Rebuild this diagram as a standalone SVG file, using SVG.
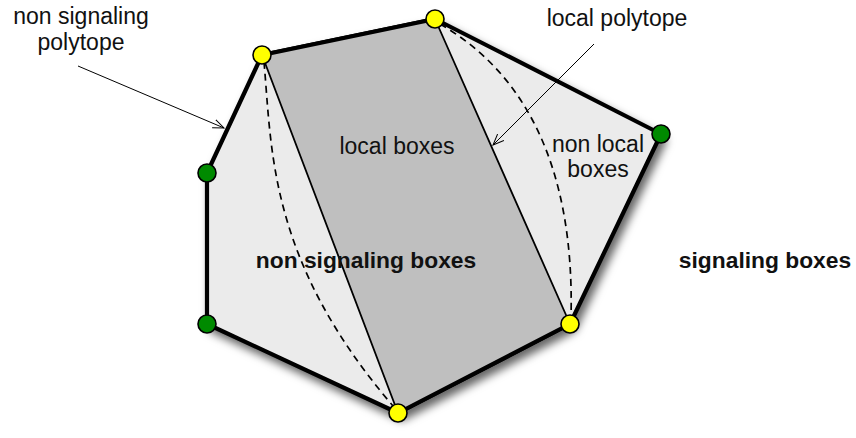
<svg xmlns="http://www.w3.org/2000/svg" width="856" height="438" viewBox="0 0 856 438">
<style>
.t{font-family:"Liberation Sans",Arial,sans-serif;font-size:23px;fill:#111;text-anchor:middle}
.b{font-weight:bold;font-size:22.8px}
.y{fill:#ffff00;stroke:#000;stroke-width:1.6}
.g{fill:#008a00;stroke:#000;stroke-width:1.6}
.thin{fill:none;stroke:#000;stroke-width:1.8}
.dash{fill:none;stroke:#000;stroke-width:1.7;stroke-dasharray:7 5}
.arr{fill:none;stroke:#000;stroke-width:1;marker-end:url(#ah)}
</style>
<defs>
<filter id="sh" x="-10%" y="-10%" width="125%" height="130%">
<feDropShadow dx="4" dy="6" stdDeviation="4.5" flood-color="#000" flood-opacity="0.6"/>
</filter>
<marker id="ah" markerWidth="12" markerHeight="10" refX="11" refY="5" orient="auto" markerUnits="userSpaceOnUse">
<path d="M0,0.5 L11,5 L0,9.5" fill="none" stroke="#000" stroke-width="1"/>
</marker>
</defs>
<rect width="856" height="438" fill="#fff"/>
<g id="nonsignaling-polytope">
<polygon points="262,55 435,19 661,134 570,324 398,413 207,324 207,173" fill="#ebebeb" stroke="#000" stroke-width="4.2" stroke-linejoin="round" filter="url(#sh)"/>
</g>
<g id="local-polytope">
<polygon points="262,55 435,19 570,324 398,413" fill="#bfbfbf"/>
<path class="thin" d="M262,55 L398,413 M435,19 L570,324"/>
<path d="M262,55 L435,19 M570,324 L398,413" stroke="#000" stroke-width="4.2" fill="none"/>
</g>
<g id="quantum-boundaries">
<path class="dash" d="M264,62 C272,150 268,260 393,406"/>
<path class="dash" d="M440,24 C520,70 575,160 571,318"/>
</g>
<g id="vertices">
<circle class="y" cx="262" cy="55" r="9"/>
<circle class="y" cx="435" cy="19" r="9"/>
<circle class="g" cx="661" cy="134" r="9"/>
<circle class="y" cx="570" cy="324" r="9"/>
<circle class="y" cx="398" cy="413" r="9"/>
<circle class="g" cx="207" cy="324" r="9"/>
<circle class="g" cx="207" cy="173" r="9"/>
</g>
<g id="connectors">
<path class="arr" d="M78,66 L224,128"/>
<path class="arr" d="M594,44 L493,145"/>
</g>
<g id="labels">
<text class="t" x="81" y="24">non signaling</text>
<text class="t" x="81" y="50">polytope</text>
<text class="t" x="617" y="26">local polytope</text>
<text class="t" x="397" y="154">local boxes</text>
<text class="t" x="598" y="151.5">non local</text>
<text class="t" x="598" y="177">boxes</text>
<text class="t b" x="366" y="268">non signaling boxes</text>
<text class="t b" x="765" y="268">signaling boxes</text>
</g>
</svg>
